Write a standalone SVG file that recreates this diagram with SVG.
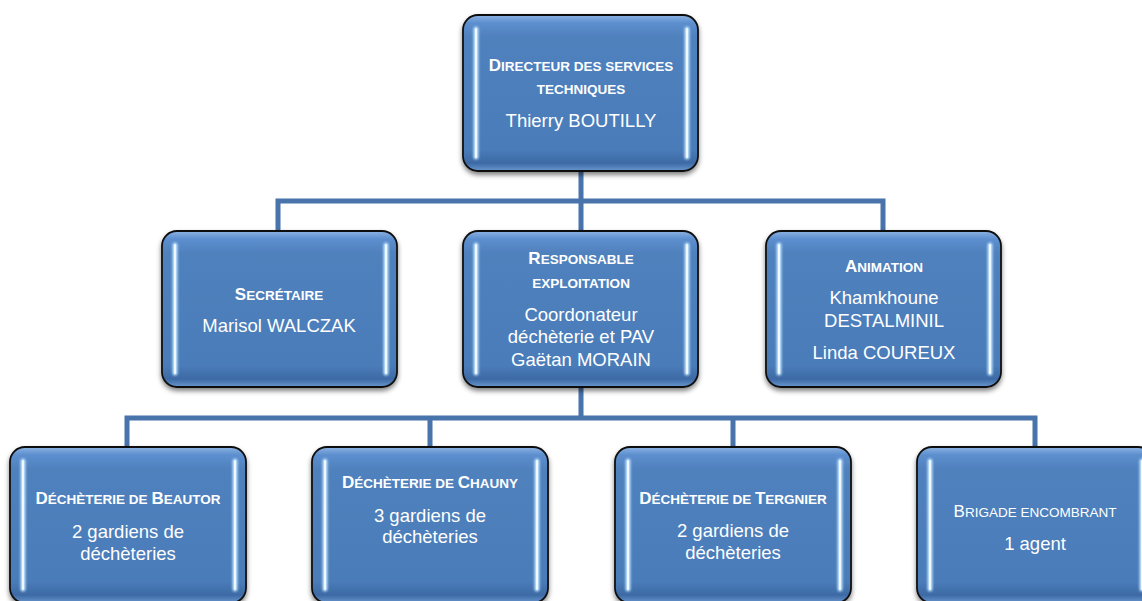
<svg xmlns="http://www.w3.org/2000/svg" width="1142" height="601" viewBox="0 0 1142 601">
<defs>
<linearGradient id="g" x1="0" y1="0" x2="0" y2="1">
<stop offset="0" stop-color="#8db3e2"/>
<stop offset="0.05" stop-color="#5d8fcf"/>
<stop offset="0.14" stop-color="#4f81bd"/>
<stop offset="0.86" stop-color="#4a7cb9"/>
<stop offset="0.95" stop-color="#3d6aa5"/>
<stop offset="1" stop-color="#6a97cf"/>
</linearGradient>
<filter id="sh" x="-10%" y="-10%" width="120%" height="130%">
<feGaussianBlur in="SourceAlpha" stdDeviation="2.5"/>
<feOffset dx="0" dy="3" result="b"/>
<feComponentTransfer><feFuncA type="linear" slope="0.5"/></feComponentTransfer>
<feMerge><feMergeNode/><feMergeNode in="SourceGraphic"/></feMerge>
</filter>
<filter id="glow" filterUnits="userSpaceOnUse" x="0" y="0" width="1142" height="601">
<feGaussianBlur stdDeviation="1.3"/>
</filter>
</defs>
<style>
.box{fill:url(#g);stroke:#111;stroke-width:1.8;filter:url(#sh)}
.bar{stroke:#bfe2ff;stroke-width:5;stroke-linecap:round;filter:url(#glow)}
.barc{stroke:#eef9ff;stroke-width:2.2;stroke-linecap:round}
text{font-family:"Liberation Sans",Arial,sans-serif;fill:#fff;text-anchor:middle}
.t{font-weight:bold;font-size:13.5px}
.tr{font-size:13.5px}
.B{font-size:17px}
.n{font-size:18.5px}
.con{fill:none;stroke:#4873ab;stroke-width:5;stroke-linejoin:miter}
</style>
<g id="connectors">
<path class="con" d="M581 171V231M278 231V201H883V231"/>
<path class="con" d="M581 387V418M127 447V418H1035V447M430 418V447M733 418V447"/>
</g>
<g id="dir">
<rect class="box" x="463" y="15" width="235" height="156" rx="15"/>
<line class="bar" x1="476" y1="29" x2="476" y2="157"/><line class="barc" x1="476" y1="29" x2="476" y2="157"/>
<line class="bar" x1="687" y1="29" x2="687" y2="157"/><line class="barc" x1="687" y1="29" x2="687" y2="157"/>
<text x="581" y="71" class="t"><tspan class="B">D</tspan>IRECTEUR DES SERVICES</text>
<text x="581" y="94" class="t">TECHNIQUES</text>
<text x="581" y="127" class="n">Thierry BOUTILLY</text>
</g>
<g id="sec">
<rect class="box" x="162" y="231" width="235" height="156" rx="15"/>
<line class="bar" x1="175" y1="245" x2="175" y2="373"/><line class="barc" x1="175" y1="245" x2="175" y2="373"/>
<line class="bar" x1="386" y1="245" x2="386" y2="373"/><line class="barc" x1="386" y1="245" x2="386" y2="373"/>
<text x="279" y="300" class="t"><tspan class="B">S</tspan>ECRÉTAIRE</text>
<text x="279" y="332" class="n">Marisol WALCZAK</text>
</g>
<g id="resp">
<rect class="box" x="463" y="231" width="235" height="156" rx="15"/>
<line class="bar" x1="476" y1="245" x2="476" y2="373"/><line class="barc" x1="476" y1="245" x2="476" y2="373"/>
<line class="bar" x1="687" y1="245" x2="687" y2="373"/><line class="barc" x1="687" y1="245" x2="687" y2="373"/>
<text x="581" y="264" class="t"><tspan class="B">R</tspan>ESPONSABLE</text>
<text x="581" y="288" class="t">EXPLOITATION</text>
<text x="581" y="321" class="n">Coordonateur</text>
<text x="581" y="343" class="n">déchèterie et PAV</text>
<text x="581" y="366" class="n">Gaëtan MORAIN</text>
</g>
<g id="anim">
<rect class="box" x="766" y="231" width="235" height="156" rx="15"/>
<line class="bar" x1="779" y1="245" x2="779" y2="373"/><line class="barc" x1="779" y1="245" x2="779" y2="373"/>
<line class="bar" x1="990" y1="245" x2="990" y2="373"/><line class="barc" x1="990" y1="245" x2="990" y2="373"/>
<text x="884" y="272" class="t"><tspan class="B">A</tspan>NIMATION</text>
<text x="884" y="304" class="n">Khamkhoune</text>
<text x="884" y="327" class="n">DESTALMINIL</text>
<text x="884" y="359" class="n">Linda COUREUX</text>
</g>
<g id="beau">
<rect class="box" x="10" y="447" width="236" height="156" rx="15"/>
<line class="bar" x1="23" y1="461" x2="23" y2="589"/><line class="barc" x1="23" y1="461" x2="23" y2="589"/>
<line class="bar" x1="235" y1="461" x2="235" y2="589"/><line class="barc" x1="235" y1="461" x2="235" y2="589"/>
<text x="128" y="504" class="t"><tspan class="B">D</tspan>ÉCHÈTERIE DE <tspan class="B">B</tspan>EAUTOR</text>
<text x="128" y="538" class="n">2 gardiens de</text>
<text x="128" y="560" class="n">déchèteries</text>
</g>
<g id="chau">
<rect class="box" x="312" y="447" width="236" height="156" rx="15"/>
<line class="bar" x1="325" y1="461" x2="325" y2="589"/><line class="barc" x1="325" y1="461" x2="325" y2="589"/>
<line class="bar" x1="537" y1="461" x2="537" y2="589"/><line class="barc" x1="537" y1="461" x2="537" y2="589"/>
<text x="430" y="488" class="t"><tspan class="B">D</tspan>ÉCHÈTERIE DE <tspan class="B">C</tspan>HAUNY</text>
<text x="430" y="522" class="n">3 gardiens de</text>
<text x="430" y="543" class="n">déchèteries</text>
</g>
<g id="terg">
<rect class="box" x="615" y="447" width="236" height="156" rx="15"/>
<line class="bar" x1="628" y1="461" x2="628" y2="589"/><line class="barc" x1="628" y1="461" x2="628" y2="589"/>
<line class="bar" x1="840" y1="461" x2="840" y2="589"/><line class="barc" x1="840" y1="461" x2="840" y2="589"/>
<text x="733" y="504" class="t"><tspan class="B">D</tspan>ÉCHÈTERIE DE <tspan class="B">T</tspan>ERGNIER</text>
<text x="733" y="537" class="n">2 gardiens de</text>
<text x="733" y="559" class="n">déchèteries</text>
</g>
<g id="brig">
<rect class="box" x="917" y="447" width="236" height="156" rx="15"/>
<line class="bar" x1="930" y1="461" x2="930" y2="589"/><line class="barc" x1="930" y1="461" x2="930" y2="589"/>
<line class="bar" x1="1142" y1="461" x2="1142" y2="589"/><line class="barc" x1="1142" y1="461" x2="1142" y2="589"/>
<text x="1035" y="517" class="tr"><tspan class="B">B</tspan>RIGADE ENCOMBRANT</text>
<text x="1035" y="550" class="n">1 agent</text>
</g>
</svg>
